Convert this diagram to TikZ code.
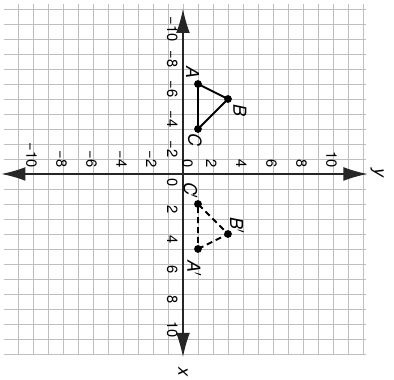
\documentclass[tikz,border=0pt]{standalone}
\usepackage{fontspec}
\setsansfont{TeX Gyre Heros}
\usetikzlibrary{arrows.meta}

\begin{document}
\begin{tikzpicture}[
                scale=0.5, rotate=-90,
                gridline/.style={draw=black!25, line width=0.5pt},
                axis/.style={draw=black!85, line width=1.1pt, {Latex[length=8mm, width=4.6mm]}-{Latex[length=8mm, width=4.6mm]}},
                tick/.style={rotate=-90, inner sep=0pt, font=\sffamily\fontsize{14}{16}\selectfont},
                ytick/.style={tick, anchor=east},
                xtick/.style={tick, anchor=north},
                dot/.style={circle, fill=black, inner sep=0pt, minimum size=2.6mm},
                vlabel/.style={rotate=-90, inner sep=0pt, font=\sffamily\itshape\fontsize{17}{19}\selectfont},
                tri/.style={line width=1.8pt, line join=round},
                image/.style={tri, dashed, dash pattern=on 2mm off 1.3mm}
            ]

            \useasboundingbox (-11.6,-12.2) rectangle (13.67,14.07);
            \draw[gridline] (-11.3,-11.9) grid (12.0,12.2);

            % axes
            \coordinate (xneg) at (-11,0);
            \coordinate (xpos) at (12.2,0);
            \coordinate (yneg) at (0,-12.1);
            \coordinate (ypos) at (0,12.3);
            \draw[axis] (xneg) -- (xpos);
            \draw[axis] (yneg) -- (ypos);
            \node[vlabel] (xname) at (13.2,0) {x};
            \node[vlabel] (yname) at (-0.07,12.95) {y};

            \foreach \k in {-10,-8,-6,-4,-2,2,4,6,8,10} {
                \node[ytick] (ty\k) at (-0.42,\k-0.1) {\ifnum\k<0 −\fi\the\numexpr\ifnum\k<0 -\fi\k\relax};
                \node[xtick] (tx\k) at (\k+0.35,-0.35) {\ifnum\k<0 −\fi\the\numexpr\ifnum\k<0 -\fi\k\relax};
            }
            \node[ytick] (ty0) at (-0.42,0.3) {0};
            \node[xtick] (tx0) at (0.6,-0.35) {0};

            % triangle ABC
            \node[dot] (A) at (-6,1) {};
            \node[dot] (B) at (-5,3) {};
            \node[dot] (C) at (-3,1) {};
            \draw[tri] (A.center) -- (B.center) -- (C.center) -- cycle;
            \node[vlabel] (lA) at (-6.75,0.65) {A};
            \node[vlabel] (lB) at (-4.25,3.8) {B};
            \node[vlabel] (lC) at (-2.25,0.8) {C};

            % image A'B'C'
            \node[dot] (A1) at (5,1) {};
            \node[dot] (B1) at (4,3) {};
            \node[dot] (C1) at (2,1) {};
            \draw[image] (A1.center) -- (B1.center) -- (C1.center) -- cycle;
            \node[vlabel] (lA1) at (6.3,0.75) {A$'$};
            \node[vlabel] (lB1) at (3.45,3.6) {B$'$};
            \node[vlabel] (lC1) at (1.1,0.5) {C$'$};
        \end{tikzpicture}
\end{document}
